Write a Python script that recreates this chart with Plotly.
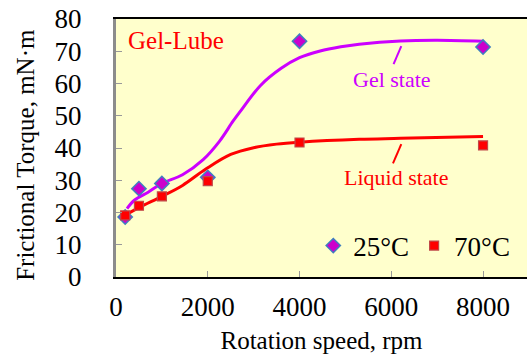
import plotly.graph_objects as go

# Measured data
speed = [200, 500, 1000, 2000, 4000, 8000]
torque_25C = [18.6, 27.4, 29.0, 30.9, 73.1, 71.3]
torque_70C = [19.1, 22.1, 25.0, 29.7, 41.7, 40.8]

# Fitted (hand-drawn) trend curves
gel_fit_x = [240, 400, 700, 1000, 1450, 1900, 2250, 2550, 2700, 3150, 3600, 4000, 4450, 4900, 5300, 6200, 7000, 8000]
gel_fit_y = [21.2, 23.8, 26.3, 29.0, 31.7, 36.4, 42.0, 48.3, 51.2, 59.4, 64.7, 68.0, 70.1, 71.4, 72.2, 73.2, 73.4, 73.1]
liq_fit_x = [130, 500, 1000, 1450, 1950, 2500, 3000, 3500, 4000, 5300, 6200, 8000]
liq_fit_y = [18.6, 21.5, 25.0, 28.4, 33.4, 38.0, 40.1, 41.2, 41.8, 42.7, 43.0, 43.6]

x_ticks = [0, 2000, 4000, 6000, 8000]
y_ticks = [0, 10, 20, 30, 40, 50, 60, 70, 80]

PURPLE = "#CC00FF"
RED = "#FF0000"
FONT = "Liberation Serif"

fig = go.Figure()
fig.add_trace(go.Scatter(x=gel_fit_x, y=gel_fit_y, mode="lines", line=dict(color=PURPLE, width=3, shape="spline"),
                         showlegend=False, hoverinfo="skip"))
fig.add_trace(go.Scatter(x=liq_fit_x, y=liq_fit_y, mode="lines", line=dict(color=RED, width=3, shape="spline"),
                         showlegend=False, hoverinfo="skip"))
fig.add_trace(go.Scatter(x=speed, y=torque_25C, mode="markers", name="25°C",
                         marker=dict(symbol="diamond", size=11, color="#CC00CC", line=dict(color="#3F7FBF", width=1.5))))
fig.add_trace(go.Scatter(x=speed, y=torque_70C, mode="markers", name="70°C",
                         marker=dict(symbol="square", size=9, color=RED, line=dict(color="#C04848", width=1.2))))

# leader lines for curve labels
fig.add_shape(type="line", x0=6218, y0=71.6, x1=6050, y1=66.0, line=dict(color=PURPLE, width=2))
fig.add_shape(type="line", x0=6218, y0=41.2, x1=6037, y1=35.2, line=dict(color=RED, width=2))

fig.add_annotation(x=0.025, y=0.915, xref="paper", yref="paper", text="Gel-Lube", showarrow=False,
                   xanchor="left", yanchor="middle", font=dict(family=FONT, size=25, color=RED))
fig.add_annotation(x=6009, y=61.3, text="Gel state", showarrow=False,
                   font=dict(family=FONT, size=22, color=PURPLE))
fig.add_annotation(x=6100, y=30.9, text="Liquid state", showarrow=False,
                   font=dict(family=FONT, size=22, color=RED))
fig.add_annotation(x=-0.22, y=0.472, xref="paper", yref="paper", text="Frictional Torque, mN·m",
                   textangle=-90, showarrow=False, xanchor="center", yanchor="middle",
                   font=dict(family=FONT, size=25, color="black"))

fig.update_layout(
    width=527, height=358,
    margin=dict(l=116, r=0, t=19, b=81),
    paper_bgcolor="white", plot_bgcolor="#FFFFCC",
    font=dict(family=FONT, color="black", size=25),
    showlegend=True,
    legend=dict(orientation="h", x=0.48, y=0.12, xanchor="left", yanchor="middle",
                bgcolor="rgba(0,0,0,0)", font=dict(family=FONT, size=27), itemwidth=30),
)
fig.update_xaxes(range=[0, 8958], tickvals=x_ticks, ticktext=[str(v) for v in x_ticks],
                 showgrid=False, zeroline=False, ticks="inside", ticklen=6, tickcolor="#999999",
                 showline=True, linecolor="black", linewidth=2, mirror=True,
                 tickfont=dict(family=FONT, size=27), ticklabelstandoff=5,
                 title=dict(text="Rotation speed, rpm", font=dict(family=FONT, size=25), standoff=10))
fig.update_yaxes(range=[0, 80], tickvals=y_ticks, showgrid=False, zeroline=False,
                 ticks="inside", ticklen=6, tickcolor="#999999",
                 showline=True, linecolor="#8C8C8C", linewidth=3, mirror=False,
                 tickfont=dict(family=FONT, size=27), ticklabelstandoff=26)

fig.write_html("out.html")
